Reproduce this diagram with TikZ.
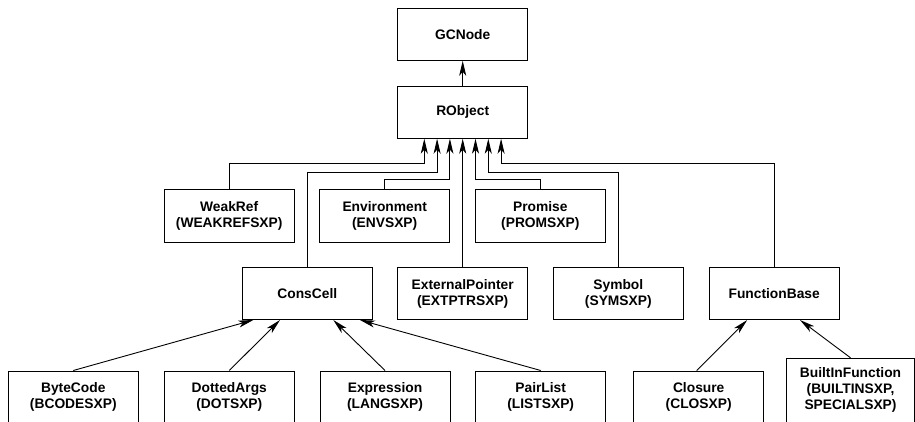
\documentclass[tikz,border=0pt]{standalone}
\usepackage{fontspec}
\setmainfont{Liberation Sans}
\usetikzlibrary{arrows.meta,calc}
\tikzset{
  cls/.style={draw=black, line width=1pt, fill=white, minimum width=130pt, minimum height=52pt,
    align=center, inner sep=2pt, font=\fontsize{13.8}{16}\selectfont\bfseries},
  arr/.style={draw=black, line width=0.9pt, -{Stealth[length=15pt,width=7pt,inset=4pt]}},
}
\begin{document}
\begin{tikzpicture}[x=1pt,y=-1pt]
\useasboundingbox (0,0) rectangle (915,422);
\clip (0,0) rectangle (915,422);
% nodes
\node[cls] (gc) at (462.7,34.3) {GCNode};
\node[cls] (ro) at (462.7,112.2) {RObject};
\node[cls] (weak) at (229.2,216) {WeakRef\\(WEAKREFSXP)};
\node[cls] (env) at (384.7,216) {Environment\\(ENVSXP)};
\node[cls] (prom) at (540.3,216) {Promise\\(PROMSXP)};
\node[cls] (cons) at (307.3,293.5) {ConsCell};
\node[cls] (ext) at (462.7,293.5) {ExternalPointer\\(EXTPTRSXP)};
\node[cls] (sym) at (618.3,293.5) {Symbol\\(SYMSXP)};
\node[cls] (fb) at (774.2,293.5) {FunctionBase};
\node[cls] (bc) at (73.3,397) {ByteCode\\(BCODESXP)};
\node[cls] (dot) at (229.3,397) {DottedArgs\\(DOTSXP)};
\node[cls] (expr) at (385,397) {Expression\\(LANGSXP)};
\node[cls] (pair) at (540.7,397) {PairList\\(LISTSXP)};
\node[cls] (clo) at (698.7,397) {Closure\\(CLOSXP)};
\node[cls, minimum width=128pt, minimum height=64pt] (bif) at (850.5,390.3) {BuiltInFunction\\(BUILTINSXP,\\SPECIALSXP)};
% entry points on RObject
\coordinate (r1) at ([xshift=-38.4pt]ro.south);
\coordinate (r2) at ([xshift=-25.6pt]ro.south);
\coordinate (r3) at ([xshift=-12.8pt]ro.south);
\coordinate (r5) at ([xshift=12.8pt]ro.south);
\coordinate (r6) at ([xshift=25.6pt]ro.south);
\coordinate (r7) at ([xshift=38.4pt]ro.south);
% connectors
\draw[arr] (ro.north) -- (gc.south);
\draw[arr] (weak.north) |- ($(r1)+(0,25)$) -- (r1);
\draw[arr] (cons.north) |- ($(r2)+(0,33.4)$) -- (r2);
\draw[arr] (env.north) |- ($(r3)+(0,41)$) -- (r3);
\draw[arr] (ext.north) -- (ro.south);
\draw[arr] (prom.north) |- ($(r5)+(0,41)$) -- (r5);
\draw[arr] (sym.north) |- ($(r6)+(0,33.4)$) -- (r6);
\draw[arr] (fb.north) |- ($(r7)+(0,25)$) -- (r7);
\draw[arr] (bc.north) -- ([xshift=-54pt]cons.south);
\draw[arr] (dot.north) -- ([xshift=-27.3pt]cons.south);
\draw[arr] (expr.north) -- ([xshift=26pt]cons.south);
\draw[arr] (pair.north) -- ([xshift=52.7pt]cons.south);
\draw[arr] ([xshift=-2pt]clo.north) -- ([xshift=-27pt]fb.south);
\draw[arr] (bif.north) -- ([xshift=25.8pt]fb.south);
\end{tikzpicture}
\end{document}
